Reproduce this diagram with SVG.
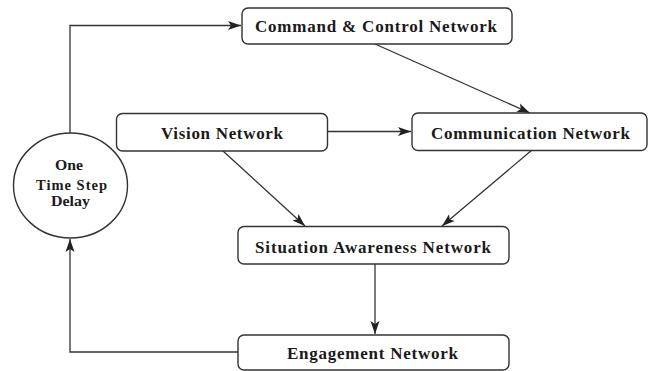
<svg xmlns="http://www.w3.org/2000/svg" width="649" height="371" viewBox="0 0 649 371">
  <defs>
    <marker id="arrow" viewBox="0 0 14 10" refX="13" refY="5" markerWidth="14" markerHeight="10" markerUnits="userSpaceOnUse" orient="auto">
      <path d="M0,0.5 L13,5 L0,9.5 L3,5 Z" fill="#222"/>
    </marker>
    <style>
      .box { fill: #fff; stroke: #333; stroke-width: 1.4; }
      .lbl { font-family: "Liberation Serif", "Times New Roman", serif; font-weight: bold; font-size: 17px; fill: #1a1a1a; text-anchor: middle; }
      .small { font-size: 14.5px; }
      .conn { fill: none; stroke: #333; stroke-width: 1.3; marker-end: url(#arrow); }
    </style>
  </defs>
  <rect width="649" height="371" fill="#fff"/>

  <g id="connectors">
    <!-- delay feeds command & control -->
    <path class="conn" d="M70,133 V25.5 H241"/>
    <!-- engagement feeds back into delay -->
    <path class="conn" d="M238,352 H70 V239"/>
    <path class="conn" d="M327,131.5 H411"/>
    <path class="conn" d="M375,44 L530,113"/>
    <path class="conn" d="M223,151 L305,226"/>
    <path class="conn" d="M532,150 L442,226"/>
    <path class="conn" d="M375,264 V334"/>
  </g>

  <g id="delay">
    <ellipse class="box" cx="70.5" cy="185.5" rx="57" ry="52.5"/>
    <text class="lbl small" x="69" y="170" textLength="28" lengthAdjust="spacingAndGlyphs">One</text>
    <text class="lbl small" x="71.5" y="190" textLength="71" lengthAdjust="spacing">Time Step</text>
    <text class="lbl small" x="70.5" y="206" textLength="39" lengthAdjust="spacingAndGlyphs">Delay</text>
  </g>

  <g id="command">
    <rect class="box" x="242" y="8" width="270" height="36" rx="6"/>
    <text class="lbl" x="376" y="32" textLength="242" lengthAdjust="spacing">Command &amp; Control Network</text>
  </g>

  <g id="vision">
    <rect class="box" x="116.5" y="113.5" width="211" height="37.5" rx="6"/>
    <text class="lbl" x="222" y="138.5" textLength="122" lengthAdjust="spacing">Vision Network</text>
  </g>

  <g id="communication">
    <rect class="box" x="412" y="113" width="235" height="37.5" rx="6"/>
    <text class="lbl" x="530.5" y="138.5" textLength="199" lengthAdjust="spacing">Communication Network</text>
  </g>

  <g id="situation">
    <rect class="box" x="238" y="226.5" width="271" height="37.5" rx="6"/>
    <text class="lbl" x="373" y="252.5" textLength="236" lengthAdjust="spacing">Situation Awareness Network</text>
  </g>

  <g id="engagement">
    <rect class="box" x="238" y="335" width="271" height="35" rx="6"/>
    <text class="lbl" x="372.5" y="359" textLength="171" lengthAdjust="spacing">Engagement Network</text>
  </g>
</svg>
